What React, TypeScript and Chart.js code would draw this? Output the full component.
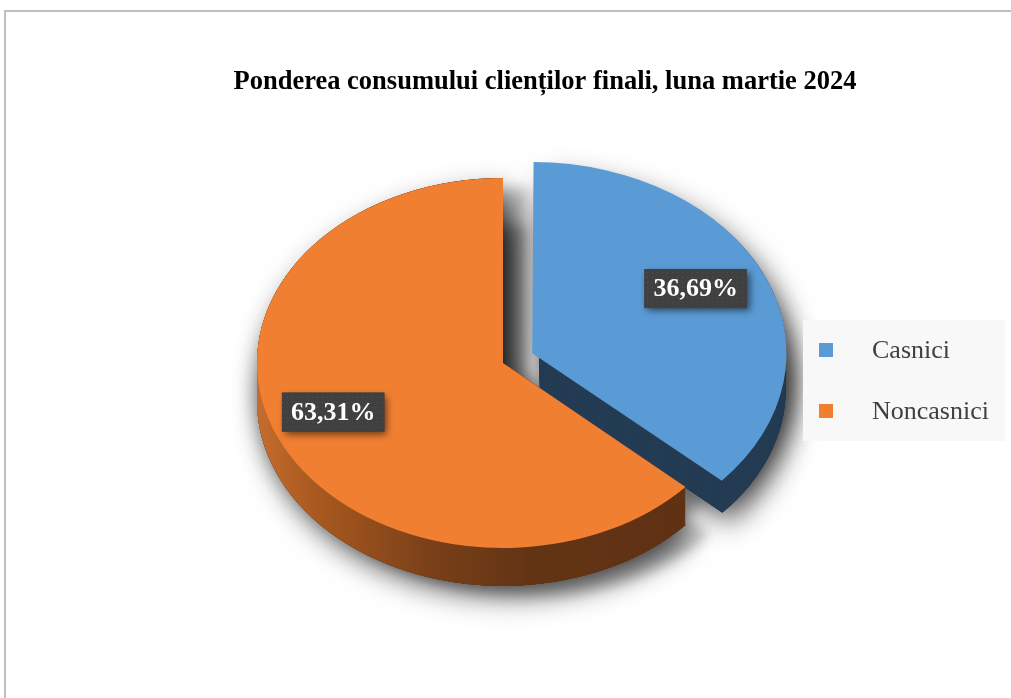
import React, { useEffect, useRef } from "react";
import { Chart, registerables } from "chart.js";

Chart.register(...registerables);

const categories = ["Casnici", "Noncasnici"];
const shares = [36.69, 63.31];
const valueLabels = ["36,69%", "63,31%"];
const explode = [128, 0];
const titleText = "Ponderea consumului clienților finali, luna martie 2024";

const topColors = ["#5B9BD5", "#F07F32"];

const W = 1011;
const H = 698;
const RADIUS = 246;
const TILT = 0.752;
const DEPTH = 38;
const CENTER_X = 503;
const CENTER_Y = 363;

function sliceGeom(el: any) {
  const off = (el.options.offset || 0) / 4;
  const fix = 1 - Math.sin(Math.min(Math.PI, el.circumference || 0));
  const t = off + off * fix;
  const h = (el.startAngle + el.endAngle) / 2;
  return { cx: el.x + Math.cos(h) * t, cy: el.y + Math.sin(h) * t, h };
}

function slicePath(ctx: CanvasRenderingContext2D, el: any, pivot: number, dy: number) {
  const g = sliceGeom(el);
  ctx.save();
  ctx.translate(0, pivot + dy);
  ctx.scale(1, TILT);
  ctx.translate(0, -pivot);
  ctx.beginPath();
  ctx.moveTo(g.cx, g.cy);
  ctx.arc(g.cx, g.cy, el.outerRadius, el.startAngle, el.endAngle);
  ctx.closePath();
  ctx.restore();
}

function sideFill(ctx: CanvasRenderingContext2D, i: number, el: any) {
  if (i === 0) return "#233C53";
  const g = sliceGeom(el);
  const gr = ctx.createLinearGradient(g.cx - el.outerRadius, 0, g.cx + el.outerRadius, 0);
  gr.addColorStop(0, "#C46C2E");
  gr.addColorStop(0.12, "#A9591F");
  gr.addColorStop(0.35, "#7A4019");
  gr.addColorStop(0.55, "#633414");
  gr.addColorStop(1, "#5E3012");
  return gr;
}

let dotPattern: CanvasPattern | null = null;
function getPattern(ctx: CanvasRenderingContext2D) {
  if (dotPattern) return dotPattern;
  const c = document.createElement("canvas");
  c.width = 5;
  c.height = 5;
  const p = c.getContext("2d")!;
  p.fillStyle = "#404040";
  p.fillRect(0, 0, 5, 5);
  p.fillStyle = "#505050";
  p.fillRect(2, 2, 1, 1);
  dotPattern = ctx.createPattern(c, "repeat");
  return dotPattern;
}

const labelNudge = [
  [-6, -8],
  [-8, -5],
];

const pie3d = {
  id: "pie3d",
  beforeDraw(chart: any) {
    const ctx: CanvasRenderingContext2D = chart.ctx;
    ctx.save();
    ctx.fillStyle = "#ffffff";
    ctx.fillRect(0, 0, chart.width, chart.height);
    ctx.fillStyle = "#BFBFBF";
    ctx.fillRect(4, 10, chart.width - 4, 2);
    ctx.fillRect(4, 10, 2, chart.height - 10);
    ctx.fillStyle = "#000000";
    ctx.font = "bold 26.5px 'Liberation Serif', 'Times New Roman', serif";
    ctx.textAlign = "center";
    ctx.textBaseline = "alphabetic";
    ctx.fillText(titleText, 545, 89);
    ctx.restore();
  },
  beforeDatasetsDraw(chart: any) {
    const ctx: CanvasRenderingContext2D = chart.ctx;
    const meta = chart.getDatasetMeta(0);
    const pivot = (chart.chartArea.top + chart.chartArea.bottom) / 2;
    const els = meta.data;
    // soft drop shadow
    ctx.save();
    ctx.shadowColor = "rgba(0,0,0,0.5)";
    ctx.shadowBlur = 28;
    ctx.shadowOffsetX = 7;
    ctx.shadowOffsetY = 12;
    els.forEach((el: any, i: number) => {
      for (const d of [DEPTH, DEPTH / 2, 0]) {
        slicePath(ctx, el, pivot, d);
        ctx.fillStyle = i === 0 ? "#233C53" : "#5E3012";
        ctx.fill();
      }
    });
    ctx.restore();
    // tighter shadow cast into the gap by the larger slice
    ctx.save();
    ctx.shadowColor = "rgba(0,0,0,0.2)";
    ctx.shadowBlur = 12;
    ctx.shadowOffsetX = 24;
    ctx.shadowOffsetY = 10;
    els.forEach((el: any, i: number) => {
      if (i !== 1) return;
      for (const d of [DEPTH, 0]) {
        slicePath(ctx, el, pivot, d);
        ctx.fillStyle = "#5E3012";
        ctx.fill();
      }
    });
    ctx.restore();
    // side walls
    els.forEach((el: any, i: number) => {
      ctx.save();
      const fill = sideFill(ctx, i, el);
      for (let d = DEPTH; d >= 1; d--) {
        slicePath(ctx, el, pivot, d);
        ctx.fillStyle = fill as any;
        ctx.fill();
      }
      ctx.restore();
    });
    ctx.save();
    ctx.translate(0, pivot);
    ctx.scale(1, TILT);
    ctx.translate(0, -pivot);
  },
  afterDatasetsDraw(chart: any) {
    const ctx: CanvasRenderingContext2D = chart.ctx;
    ctx.restore();
    const meta = chart.getDatasetMeta(0);
    const pivot = (chart.chartArea.top + chart.chartArea.bottom) / 2;
    ctx.save();
    ctx.font = "bold 26px 'Liberation Serif', 'Times New Roman', serif";
    ctx.textAlign = "center";
    ctx.textBaseline = "middle";
    meta.data.forEach((el: any, i: number) => {
      const g = sliceGeom(el);
      const px = g.cx + Math.cos(g.h) * el.outerRadius * 0.72 + labelNudge[i][0];
      const pyc = g.cy + Math.sin(g.h) * el.outerRadius * 0.72;
      const py = pivot + (pyc - pivot) * TILT + labelNudge[i][1];
      const txt = valueLabels[i];
      const tw = ctx.measureText(txt).width;
      const bw = tw + 18;
      const bh = 39;
      ctx.save();
      ctx.shadowColor = "rgba(0,0,0,0.55)";
      ctx.shadowBlur = 7;
      ctx.shadowOffsetX = 3;
      ctx.shadowOffsetY = 3;
      ctx.fillStyle = "#404040";
      ctx.fillRect(px - bw / 2, py - bh / 2, bw, bh);
      ctx.restore();
      ctx.fillStyle = getPattern(ctx) as any;
      ctx.fillRect(px - bw / 2, py - bh / 2, bw, bh);
      ctx.fillStyle = "#ffffff";
      ctx.fillText(txt, px, py + 1);
    });
    ctx.restore();

    // legend
    ctx.save();
    ctx.fillStyle = "#F8F8F8";
    ctx.fillRect(803, 320, 202, 121);
    ctx.font = "26px 'Liberation Serif', 'Times New Roman', serif";
    ctx.textAlign = "left";
    ctx.textBaseline = "middle";
    const rows = [350, 411];
    chart.data.labels.forEach((lab: string, i: number) => {
      const bg = chart.data.datasets[0].backgroundColor[i];
      ctx.fillStyle = bg;
      ctx.fillRect(819, rows[i] - 7, 14, 14);
      ctx.fillStyle = "#404040";
      ctx.fillText(lab, 872, rows[i] + 1);
    });
    ctx.restore();
  },
};

export default function App() {
  const ref = useRef<HTMLCanvasElement | null>(null);
  useEffect(() => {
    if (!ref.current) return;
    const chart = new Chart(ref.current, {
      type: "pie",
      data: {
        labels: categories,
        datasets: [
          {
            data: shares,
            backgroundColor: topColors,
            borderWidth: 0,
            offset: explode,
            radius: RADIUS,
            clip: false,
          } as any,
        ],
      },
      options: {
        animation: false,
        responsive: false,
        events: [],
        layout: {
          padding: { top: 2 * CENTER_Y - H, bottom: 0, left: 0, right: W - 2 * CENTER_X },
        },
        plugins: {
          legend: { display: false },
          title: { display: false },
          tooltip: { enabled: false },
        },
      },
      plugins: [pie3d],
    });
    return () => chart.destroy();
  }, []);
  return (
    <div style={{ position: "fixed", left: 0, top: 0, width: W, height: H, background: "#fff" }}>
      <canvas ref={ref} width={W} height={H} style={{ width: W, height: H, display: "block" }} />
    </div>
  );
}
